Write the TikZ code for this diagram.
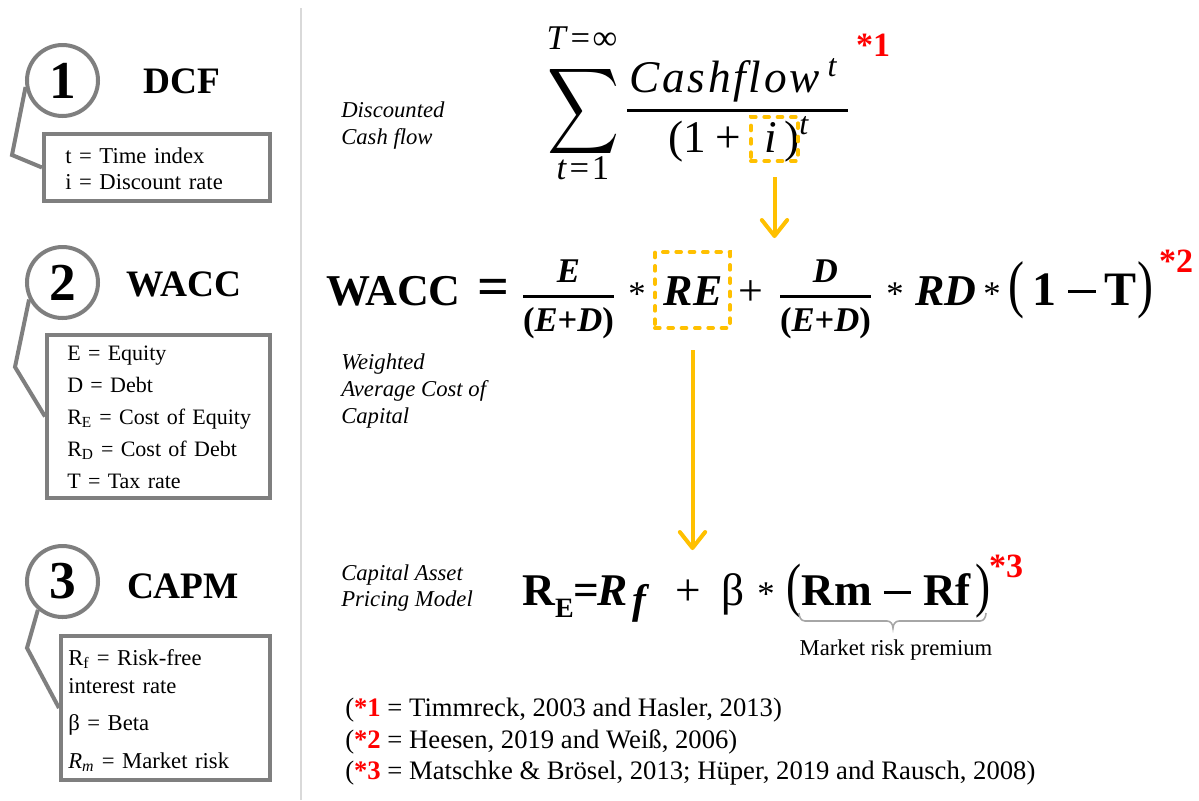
\documentclass[tikz,border=0pt]{standalone}
\usepackage{fontspec}
\setmainfont{Liberation Serif}
\usepackage{graphicx}
\usetikzlibrary{arrows.meta}
\definecolor{calloutgray}{HTML}{7F7F7F}
\definecolor{rulegray}{HTML}{D9D9D9}
\definecolor{bracegray}{HTML}{A6A6A6}
\definecolor{gold}{HTML}{FFC000}
\definecolor{refred}{HTML}{FF0000}
% tall parenthesis and a long minus bar for the formulas
\newcommand{\tallparen}[1]{\scalebox{1}[1.32]{#1}}
\newcommand{\longminus}[1]{\raisebox{0.24em}{\rule{#1}{0.075em}}}
\begin{document}
\begin{tikzpicture}[x=0.75pt,y=-0.75pt,
  numcircle/.style={circle, draw=calloutgray, line width=3pt, minimum size=53.25pt,
    inner sep=0pt, font=\fontsize{40}{48}\selectfont\bfseries},
  modeltitle/.style={inner sep=0pt, font=\fontsize{28}{34}\selectfont\bfseries},
  legendbox/.style={draw=calloutgray, line width=3pt, inner sep=0pt},
  legendtext/.style={anchor=base west, inner sep=0pt, text width=200pt, align=left},
  pointer/.style={draw=calloutgray, line width=3pt, line join=miter},
  sidelabel/.style={anchor=base west, inner sep=0pt, font=\fontsize{17}{20}\selectfont\itshape},
  hilite/.style={draw=gold, line width=3pt, dash pattern=on 3.5pt off 6.5pt, line cap=round, inner sep=0pt},
  flowarrow/.style={draw=gold, line width=3pt, -{Straight Barb[length=12pt,width=19pt,round]}},
  piece/.style={anchor=base, inner sep=0pt, font=\fontsize{33}{40}\selectfont},
  capmpiece/.style={anchor=base, inner sep=0pt, font=\fontsize{34}{40}\selectfont},
  starnote/.style={anchor=base, inner sep=0pt, text=refred, font=\fontsize{25.5}{30}\selectfont\bfseries},
  refline/.style={anchor=base west, inner sep=0pt, font=\fontsize{20}{24}\selectfont},
]
\useasboundingbox (0,0) rectangle (1199,800);

% divider between the legend column and the formulas
\draw[rulegray, line width=1.5pt] (301,8) -- (301,800);

% ---------- legend column ----------
\node[numcircle] (c1) at (62.5,80.5) {1};
\node[modeltitle] (t1) at (181.5,81.5) {DCF};
\node[legendbox, minimum width=169.5pt, minimum height=50.25pt] (b1) at (157,167.5) {};
\node[legendtext, font=\fontsize{17}{19.5}\selectfont] (b1text) at (65,163)
  {t = Time index\\ i = Discount rate};
\coordinate (k1) at (12,155);
\draw[pointer] (c1.190) -- (k1) -- (b1.west);

\node[numcircle] (c2) at (62.5,282.5) {2};
\node[modeltitle] (t2) at (184,284.5) {WACC};
\node[legendbox, minimum width=167.25pt, minimum height=122.25pt] (b2) at (158.5,416.5) {};
\node[legendtext, font=\fontsize{16.5}{24}\selectfont] (b2text) at (67,360)
  {E = Equity\\ D = Debt\\ R\textsubscript{E} = Cost of Equity\\ R\textsubscript{D} = Cost of Debt\\ T = Tax rate};
\coordinate (k2) at (15,367);
\draw[pointer] (c2.207) -- (k2) -- (b2.west);

\node[numcircle] (c3) at (62.5,581.5) {3};
\node[modeltitle] (t3) at (183,586) {CAPM};
\node[legendbox, minimum width=156.75pt, minimum height=108pt] (b3) at (165.5,708) {};
\node[legendtext, font=\fontsize{17}{21}\selectfont] (b3text) at (68,665)
  {R\textsubscript{f} = Risk-free\\ interest rate\\[6.75pt] β = Beta\\[7.5pt] \textit{R\textsubscript{m}} = Market risk};
\coordinate (k3) at (27,648);
\draw[pointer] (c3.229) -- (k3) -- (b3.west);

% ---------- side labels ----------
\node[sidelabel] (dcfa) at (341,117) {Discounted};
\node[sidelabel] (dcfb) at (341,144) {Cash flow};
\node[sidelabel] (wacca) at (341,369) {Weighted};
\node[sidelabel] (waccb) at (341,396) {Average Cost of};
\node[sidelabel] (waccc) at (341,423) {Capital};
\node[sidelabel] (capma) at (341,580) {Capital Asset};
\node[sidelabel] (capmb) at (341,606) {Pricing Model};

% ---------- discounted cash flow ----------
\node[inner sep=0pt] (sigma) at (584,111) {\resizebox*{54pt}{72pt}{$\displaystyle\sum$}};
\node[anchor=base, inner sep=0pt, font=\fontsize{26}{30}\selectfont] (sumtop) at (582,49)
  {\textit{T}\kern2pt=\kern2pt∞};
\node[anchor=base, inner sep=0pt, font=\fontsize{26}{30}\selectfont] (sumbot) at (583,179)
  {\textit{t}\kern2pt=\kern2pt1};
\node[anchor=base, inner sep=0pt, font=\fontsize{34}{40}\selectfont\itshape\addfontfeatures{LetterSpace=6}] (cfnum) at (733,92)
  {Cashflow\,\raisebox{12pt}{\fontsize{24}{28}\selectfont t}};
\draw[line width=2.25pt] (627,110) -- (848,110);
\node[anchor=base west, inner sep=0pt, font=\fontsize{34}{40}\selectfont] (cfden) at (668,152)
  {(1\kern7pt+\kern18pt\textit{i}\kern5pt)\raisebox{13pt}{\fontsize{24}{28}\selectfont\itshape t}};
\node[starnote] (s1) at (873,56) {*1};
\node[hilite, minimum width=35.25pt, minimum height=33pt] (ibox) at (774.5,139) {};
\coordinate (itip) at (774.5,238);
\draw[flowarrow, shorten <=10.5pt] (ibox.south) -- (itip);

% ---------- WACC ----------
\node[piece] (wacc) at (393.5,305) {\bfseries WACC};
\node[piece, font=\fontsize{42}{48}\selectfont] (weq) at (493,305) {\bfseries =};
\node[anchor=base, inner sep=0pt, font=\fontsize{26}{30}\selectfont] (fe) at (568.5,305)
  {$\displaystyle{\mbox{\bfseries\itshape E}\above 2.25pt\mbox{\bfseries(\itshape E\upshape+\itshape D\upshape)}}$};
\node[piece, font=\fontsize{26}{30}\selectfont] (wa1) at (637,305) {*};
\node[piece] (re) at (693,305) {\bfseries\itshape RE};
\node[piece] (wplus) at (751,305) {+};
\node[anchor=base, inner sep=0pt, font=\fontsize{26}{30}\selectfont] (fd) at (825.5,305)
  {$\displaystyle{\mbox{\bfseries\itshape D}\above 2.25pt\mbox{\bfseries(\itshape E\upshape+\itshape D\upshape)}}$};
\node[piece, font=\fontsize{26}{30}\selectfont] (wa2) at (895,305) {*};
\node[piece] (rd) at (946,305) {\bfseries\itshape RD};
\node[piece, font=\fontsize{26}{30}\selectfont] (wa3) at (992,305) {*};
\node[piece, anchor=base west, font=\fontsize{36}{40}\selectfont] (tax) at (1008,305)
  {\tallparen{(}\kern6pt\textbf{1}\kern9pt\longminus{0.58em}\kern6pt\textbf{T}\kern1pt\tallparen{)}};
\node[starnote] (s2) at (1176,272) {*2};
\node[hilite, minimum width=56.25pt, minimum height=57pt] (rebox) at (692.5,290) {};
\coordinate (retip) at (692.5,550);
\draw[flowarrow, shorten <=15pt] (rebox.south) -- (retip);

% ---------- CAPM ----------
\node[capmpiece, anchor=base west] (capre) at (522,605) {\bfseries R\raisebox{-9pt}{\fontsize{21}{24}\selectfont E}};
\node[capmpiece] (ceq) at (586,605) {\bfseries =};
\node[capmpiece, anchor=base west] (crf) at (597,605)
  {\bfseries\itshape R\kern4pt\raisebox{-6pt}{\fontsize{31}{34}\selectfont f}};
\node[capmpiece] (cplus) at (688,605) {+};
\node[capmpiece] (cbeta) at (733,605) {β};
\node[capmpiece, font=\fontsize{26}{30}\selectfont] (cast) at (766,605) {*};
\node[capmpiece, anchor=base west] (cmrp) at (786,605)
  {\tallparen{(}\textbf{Rm}\kern9pt\longminus{0.6em}\kern9pt\textbf{Rf}\kern3pt\tallparen{)}};
\node[starnote] (s3) at (1006,577) {*3};
\draw[bracegray, line width=1.2pt]
  (799,613) to[out=-90,in=180] (805,621) -- (887,621) to[out=0,in=90] (893,628)
  to[out=90,in=180] (899,621) -- (980,621) to[out=0,in=-90] (986,613);
\node[anchor=base, inner sep=0pt, font=\fontsize{17}{20}\selectfont] (mrp) at (896,655) {Market risk premium};

% ---------- sources ----------
\node[refline] (ref1) at (345,716) {(\textcolor{refred}{\bfseries *1} = Timmreck, 2003 and Hasler, 2013)};
\node[refline] (ref2) at (345,748) {(\textcolor{refred}{\bfseries *2} = Heesen, 2019 and Weiß, 2006)};
\node[refline] (ref3) at (345,779) {(\textcolor{refred}{\bfseries *3} = Matschke \& Brösel, 2013; Hüper, 2019 and Rausch, 2008)};
\end{tikzpicture}
\end{document}
